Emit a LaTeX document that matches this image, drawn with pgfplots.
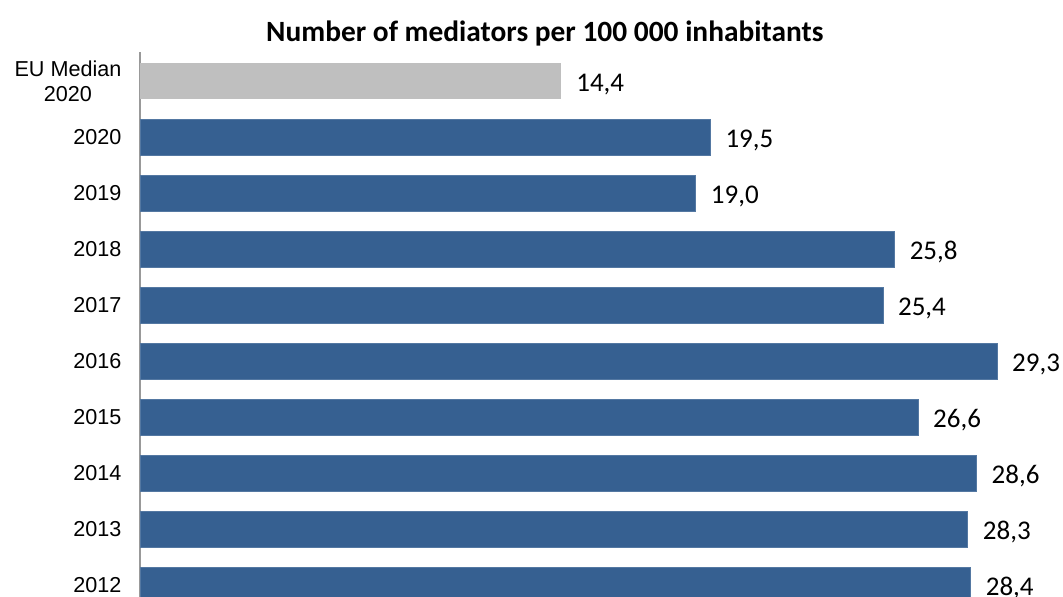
\documentclass[border=0pt]{standalone}
\usepackage{fontspec}
\setmainfont{Liberation Sans}
\newfontfamily\carlito{Carlito}
\usepackage{pgfplots}
\pgfplotsset{compat=1.18}
\definecolor{barblue}{RGB}{54,96,145}
\definecolor{bargrey}{RGB}{191,191,191}
\begin{document}
\begin{tikzpicture}
\useasboundingbox (0,0) rectangle (531.5pt,298.5pt);
\clip (0,0) rectangle (531.5pt,298.5pt);
\begin{axis}[
  at={(70pt,-10.86pt)}, anchor=south west,
  scale only axis, width=460pt, height=283.36pt,
  xbar, bar width=18pt, bar shift=0pt,
  xmin=0, xmax=31.45, ymin=-0.6, ymax=9.52,
  axis x line=none,
  axis y line*=left,
  y axis line style={draw=gray!80, line width=0.8pt, -},
  ytick={0,...,9},
  yticklabels={2012,2013,2014,2015,2016,2017,2018,2019,2020,{EU Median\\2020}},
  yticklabel style={align=center, font=\fontsize{10.8}{12.5}\selectfont, xshift=-1.5pt},
  ytick style={draw=none},
  clip=false,
  title={\carlito\bfseries\fontsize{14.7}{17}\selectfont Number of mediators per 100 000 inhabitants},
  title style={at={(0.44,1)}, anchor=base, yshift=-1pt},
  nodes near coords,
  /pgf/number format/.cd, use comma, fixed, fixed zerofill, precision=1, assume math mode=true,
  /pgfplots/.cd,
  every node near coord/.append style={font=\carlito\fontsize{13.5}{16}\selectfont, black, xshift=4pt, yshift=-1.5pt},
]
\addplot[fill=bargrey, draw=none] coordinates {(14.4,9)};
\addplot[fill=barblue, draw=barblue!85!white, line width=0.4pt] coordinates {
(28.4,0) (28.3,1) (28.6,2) (26.6,3) (29.3,4) (25.4,5) (25.8,6) (19.0,7) (19.5,8)};
\end{axis}
\end{tikzpicture}
\end{document}
